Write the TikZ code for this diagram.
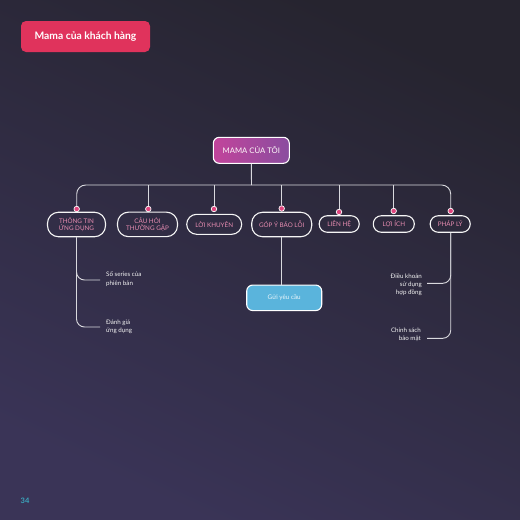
\documentclass[tikz,border=0pt]{standalone}
\usepackage{fontspec}
\setmainfont{Lato}
\usepackage{xcolor}
\usetikzlibrary{calc}

\definecolor{bgtop}{HTML}{26242F}
\definecolor{bgbot}{HTML}{3A3457}
\definecolor{titlered}{HTML}{E0335C}
\definecolor{rootleft}{HTML}{C2449B}
\definecolor{rootright}{HTML}{8A4D9F}
\definecolor{linegray}{HTML}{D9D9DE}
\definecolor{labelpink}{HTML}{E88DB2}
\definecolor{dotpink}{HTML}{E0457E}
\definecolor{sendblue}{HTML}{5AB4DC}
\definecolor{pageteal}{HTML}{3AA6BD}

\begin{document}
\begin{tikzpicture}[x=1pt, y=-1pt,
  link/.style={draw=linegray, line width=0.9pt},
  pill/.style={draw=white!92!gray, line width=1.1pt, rounded corners=11pt,
    text=labelpink, align=center, inner sep=1pt,
    font=\fontsize{6.3}{7.2}\selectfont},
  dot/.style={circle, fill=dotpink, draw=white, line width=0.7pt,
    minimum size=5.5pt, inner sep=0pt},
  note/.style={text=white!90!gray, inner sep=0pt,
    font=\fontsize{6.2}{8.3}\selectfont}]

  % background
  \shade[top color=bgtop, bottom color=bgbot, shading angle=-25]
    (0,0) rectangle (520,520);
  \useasboundingbox (0,0) rectangle (520,520);

  % title
  \node[fill=titlered, rounded corners=5pt, minimum width=129pt,
    minimum height=31pt, text=white, font=\bfseries\fontsize{10.3}{12}\selectfont]
    (title) at (85.5,36.5) {Mama của khách hàng};

  % root
  \node[left color=rootleft, right color=rootright, draw=white,
    line width=1.1pt, rounded corners=6pt, minimum width=76pt,
    minimum height=26pt, text=white!92!pink, font=\fontsize{7.7}{9}\selectfont]
    (root) at (251.3,150.3) {MAMA CỦA TÔI};

  \coordinate (bus) at (251.5,185);

  % dots
  \node[dot] (d1) at (76.7,209) {};
  \node[dot] (d2) at (148.3,209) {};
  \node[dot] (d3) at (214,209) {};
  \node[dot] (d4) at (281.7,208.5) {};
  \node[dot] (d5) at (339,212) {};
  \node[dot] (d6) at (393.7,211) {};
  \node[dot] (d7) at (450.7,211) {};

  % children
  \node[pill, minimum width=58pt, minimum height=24.5pt] (info) at (76.5,224.5)
    {THÔNG TIN\\ỨNG DỤNG};
  \node[pill, minimum width=60pt, minimum height=24.5pt] (faq) at (147.5,224.4)
    {CÂU HỎI\\THƯỜNG GẶP};
  \node[pill, minimum width=55pt, minimum height=20pt, rounded corners=10pt]
    (advice) at (214.2,224.3) {LỜI KHUYÊN};
  \node[pill, minimum width=60pt, minimum height=24.5pt] (report) at (281.7,224.5)
    {GÓP Ý BÁO LỖI};
  \node[pill, minimum width=40pt, minimum height=16.5pt, rounded corners=8pt]
    (contact) at (339.2,224) {LIÊN HỆ};
  \node[pill, minimum width=41pt, minimum height=16.5pt, rounded corners=8pt]
    (benefit) at (393.8,224) {LỢI ÍCH};
  \node[pill, minimum width=40pt, minimum height=16.5pt, rounded corners=8pt]
    (legal) at (450.2,224) {PHÁP LÝ};

  % send box
  \node[fill=sendblue, draw=white, line width=1.1pt, rounded corners=6pt,
    minimum width=75pt, minimum height=25.5pt, text=white!88!sendblue,
    font=\fontsize{6.3}{7}\selectfont] (send) at (284.2,297.8) {Gửi yêu cầu};

  % bus
  \draw[link] (root.south) -- (bus);
  \draw[link, rounded corners=9pt] (d1.north) |- (bus) -| (d7.north);
  \foreach \d in {d2,d3,d4,d5,d6}
    \draw[link] (\d.north) -- (\d |- bus);
  \draw[link] (report.south -| d4) -- (send.north -| d4);

  % side notes
  \coordinate (n1) at (100,280);
  \coordinate (n2) at (100,327);
  \coordinate (n3) at (427,283.3);
  \coordinate (n4) at (427,338.3);
  \draw[link, rounded corners=8pt] (info.south) |- (n1);
  \draw[link, rounded corners=8pt] (info.south) |- (n2);
  \draw[link, rounded corners=8pt] (legal.south -| d7) |- (n3);
  \draw[link, rounded corners=8pt] (legal.south -| d7) |- (n4);

  \node[note, anchor=west, align=left] (serial) at (106,279)
    {Số series của\\phiên bản};
  \node[note, anchor=west, align=left] (rate) at (106,326.5)
    {Đánh giá\\ứng dụng};
  \node[note, anchor=east, align=right] (terms) at (422,284.5)
    {Điều khoản\\sử dụng\\hợp đồng};
  \node[note, anchor=east, align=right] (privacy) at (421,335)
    {Chính sách\\bảo mật};

  % page number
  \node[text=pageteal, font=\bfseries\fontsize{7.5}{8}\selectfont] (page)
    at (25,501) {34};
\end{tikzpicture}
\end{document}
